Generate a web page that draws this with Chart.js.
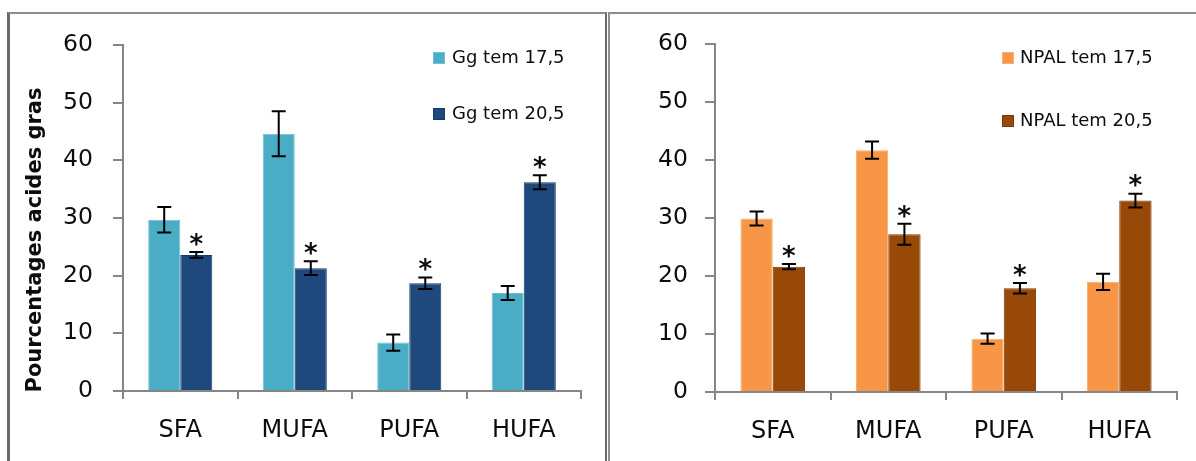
<!DOCTYPE html>
<html>
<head>
<meta charset="utf-8">
<script src="https://cdn.jsdelivr.net/npm/chart.js@4.4.1/dist/chart.umd.min.js"></script>
<style>
  html, body { margin: 0; padding: 0; background: #fff; }
  body { width: 1196px; height: 461px; position: relative; overflow: hidden; }
  .panel { position: absolute; top: 12px; height: 460px; box-sizing: border-box; border-top: 2px solid #8c8c8c; }
  #panelLeft { left: 7px; width: 600px; border-left: 3px solid #6a6a6a; border-right: 2px solid #6a6a6a; }
  #panelRight { left: 608px; width: 600px; border-left: 2px solid #8f8f8f; }
  canvas { position: absolute; top: 14px; }
  #chartLeft { left: 11px; }
  #chartRight { left: 611px; }
</style>
</head>
<body>
<div class="panel" id="panelLeft"></div>
<div class="panel" id="panelRight"></div>
<canvas id="chartLeft" width="592" height="447"></canvas>
<canvas id="chartRight" width="585" height="447"></canvas>
<script>
const categories = ['SFA', 'MUFA', 'PUFA', 'HUFA'];

const ggLabels = ['Gg tem 17,5', 'Gg tem 20,5'];
const ggTem175 = [29.7, 44.6, 8.4, 17.0];
const ggTem175Err = [2.2, 3.9, 1.4, 1.2];
const ggTem205 = [23.6, 21.3, 18.7, 36.2];
const ggTem205Err = [0.5, 1.2, 1.0, 1.2];

const npalLabels = ['NPAL tem 17,5', 'NPAL tem 20,5'];
const npalTem175 = [29.9, 41.7, 9.2, 19.0];
const npalTem175Err = [1.2, 1.5, 0.9, 1.4];
const npalTem205 = [21.6, 27.2, 17.9, 33.0];
const npalTem205Err = [0.45, 1.8, 0.9, 1.2];

// significance stars above the 20,5 bars
const starFlags = [true, true, true, true];

const yTicks = [0, 10, 20, 30, 40, 50, 60];

const FONT = 'DejaVu Sans';
const AXIS = '#868686';
const TEXT = '#0d0d0d';

const extrasPlugin = {
  id: 'extras',
  afterDatasetsDraw(chart, args, opts) {
    const { ctx } = chart;
    const y = chart.scales.y;
    ctx.save();

    // error bars + stars
    chart.data.datasets.forEach((ds, i) => {
      const meta = chart.getDatasetMeta(i);
      meta.data.forEach((bar, j) => {
        const v = ds.data[j];
        const e = ds.errors[j];
        const yTop = y.getPixelForValue(v + e);
        const yBot = y.getPixelForValue(v - e);
        ctx.strokeStyle = '#000';
        ctx.lineWidth = 2;
        ctx.beginPath();
        ctx.moveTo(bar.x, yTop);
        ctx.lineTo(bar.x, yBot);
        ctx.moveTo(bar.x - 7, yTop);
        ctx.lineTo(bar.x + 7, yTop);
        ctx.moveTo(bar.x - 7, yBot);
        ctx.lineTo(bar.x + 7, yBot);
        ctx.stroke();

        if (ds.stars && ds.stars[j]) {
          const size = 26;
          ctx.font = `bold ${size}px "${FONT}"`;
          ctx.fillStyle = TEXT;
          ctx.textAlign = 'center';
          ctx.textBaseline = 'alphabetic';
          ctx.fillText('*', bar.x, yTop - 13 + 0.53 * size);
        }
      });
    });

    // legend
    const lg = opts.legend;
    chart.data.datasets.forEach((ds, i) => {
      const cy = lg.ys[i];
      ctx.fillStyle = ds.backgroundColor;
      ctx.fillRect(lg.x, cy - 6, 12, 12);
      ctx.strokeStyle = ds.borderColor;
      ctx.lineWidth = 1;
      ctx.strokeRect(lg.x + 0.5, cy - 5.5, 11, 11);
      ctx.fillStyle = TEXT;
      ctx.font = `18px "${FONT}"`;
      ctx.textAlign = 'left';
      ctx.textBaseline = 'middle';
      ctx.fillText(ds.label, lg.x + 12 + lg.gap, cy);
    });

    // rotated axis title
    if (opts.title) {
      const t = opts.title;
      ctx.translate(t.x, t.y);
      ctx.rotate(-Math.PI / 2);
      ctx.font = `bold 21px "${FONT}"`;
      ctx.fillStyle = TEXT;
      ctx.textAlign = 'center';
      ctx.textBaseline = 'middle';
      ctx.fillText(t.text, 0, 0);
    }
    ctx.restore();
  },
};

const makeChart = (canvas, cfg) => new Chart(canvas, {
  type: 'bar',
  data: {
    labels: categories,
    datasets: [
      {
        label: cfg.labels[0],
        data: cfg.values[0],
        errors: cfg.errors[0],
        backgroundColor: cfg.colors[0],
        borderColor: cfg.borders[0],
        borderWidth: 1,
      },
      {
        label: cfg.labels[1],
        data: cfg.values[1],
        errors: cfg.errors[1],
        stars: starFlags,
        backgroundColor: cfg.colors[1],
        borderColor: cfg.borders[1],
        borderWidth: 1,
      },
    ],
  },
  options: {
    responsive: false,
    animation: false,
    events: [],
    layout: { padding: { top: cfg.top, right: cfg.right, left: 0, bottom: 0 } },
    datasets: { bar: { categoryPercentage: 0.56, barPercentage: 1 } },
    plugins: {
      legend: { display: false },
      tooltip: { enabled: false },
      extras: { legend: cfg.legend, title: cfg.title },
    },
    scales: {
      x: {
        grid: { offset: true, drawOnChartArea: false, tickLength: 8, color: AXIS, lineWidth: 2 },
        border: { color: AXIS, width: 2 },
        ticks: { font: { family: FONT, size: 24 }, color: TEXT, padding: 17 },
        afterFit: (s) => { s.height = cfg.xHeight; s.paddingLeft = 0; s.paddingRight = 0; },
      },
      y: {
        min: 0,
        max: 60,
        afterBuildTicks: (s) => { s.ticks = yTicks.map((value) => ({ value })); },
        grid: { drawOnChartArea: false, tickLength: 10, color: AXIS, lineWidth: 2 },
        border: { color: AXIS, width: 2 },
        ticks: { font: { family: FONT, size: 23.5 }, color: TEXT, padding: cfg.yPad },
        afterFit: (s) => { s.width = cfg.yWidth; s.paddingTop = 0; s.paddingBottom = 0; },
      },
    },
  },
  plugins: [extrasPlugin],
});

makeChart(document.getElementById('chartLeft'), {
  labels: ggLabels,
  values: [ggTem175, ggTem205],
  errors: [ggTem175Err, ggTem205Err],
  colors: ['#4bacc6', '#1f497d'],
  borders: ['#6fc0d6', '#173a66'],
  top: 31,
  right: 22,
  xHeight: 70,
  yWidth: 112,
  yPad: 20,
  legend: { x: 422, ys: [44, 100], gap: 7 },
  title: { text: 'Pourcentages acides gras', x: 25, y: 226 },
});

makeChart(document.getElementById('chartRight'), {
  labels: npalLabels,
  values: [npalTem175, npalTem205],
  errors: [npalTem175Err, npalTem205Err],
  colors: ['#f79646', '#984807'],
  borders: ['#f9ad6e', '#7a3905'],
  top: 30,
  right: 19,
  xHeight: 69,
  yWidth: 104,
  yPad: 17,
  legend: { x: 391, ys: [44, 107], gap: 6 },
  title: null,
});
</script>
</body>
</html>
